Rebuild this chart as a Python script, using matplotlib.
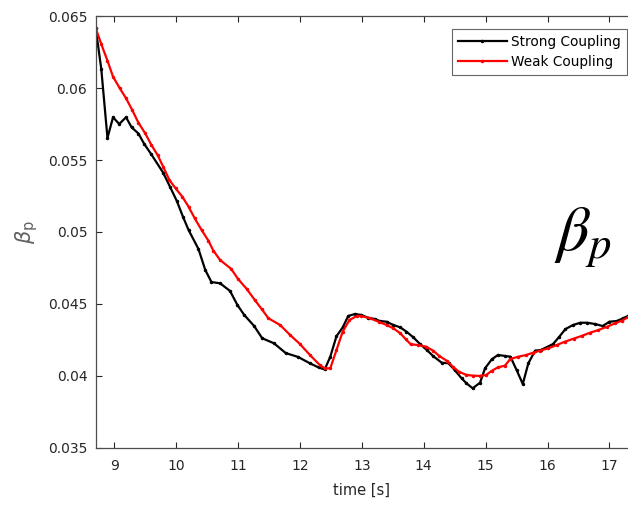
import matplotlib
matplotlib.use("Agg")
import matplotlib.pyplot as plt

# Strong coupling (black)
t_strong = [8.70, 8.79, 8.89, 8.98, 9.08, 9.19, 9.28, 9.39, 9.48, 9.60,
            9.79, 9.90, 10.01, 10.11, 10.20, 10.36, 10.47, 10.57, 10.71, 10.87,
            10.99, 11.10, 11.26, 11.39, 11.58, 11.77, 11.97, 12.16, 12.30, 12.40,
            12.49, 12.59, 12.69, 12.78, 12.89, 12.99, 13.10, 13.21, 13.29, 13.40,
            13.51, 13.62, 13.72, 13.83, 13.94, 14.05, 14.15, 14.29, 14.40, 14.50,
            14.61, 14.69, 14.79, 14.91, 14.99, 15.10, 15.20, 15.31, 15.40, 15.50,
            15.60, 15.69, 15.80, 15.89, 16.00, 16.09, 16.19, 16.29, 16.41, 16.53,
            16.64, 16.77, 16.89, 17.00, 17.12, 17.22, 17.30]
b_strong = [0.06417, 0.06134, 0.05654, 0.05798, 0.05751, 0.05798, 0.05728, 0.05685, 0.05615, 0.05539,
            0.05412, 0.05315, 0.05216, 0.05106, 0.05014, 0.04882, 0.04736, 0.04652, 0.04643, 0.04590,
            0.04492, 0.04423, 0.04346, 0.04261, 0.04226, 0.04158, 0.04131, 0.04087, 0.04058, 0.04044,
            0.04133, 0.04275, 0.04336, 0.04416, 0.04430, 0.04423, 0.04404, 0.04395, 0.04381, 0.04376,
            0.04353, 0.04337, 0.04307, 0.04268, 0.04221, 0.04179, 0.04138, 0.04091, 0.04087, 0.04040,
            0.03983, 0.03948, 0.03913, 0.03952, 0.04052, 0.04115, 0.04145, 0.04138, 0.04133, 0.04040,
            0.03943, 0.04087, 0.04175, 0.04179, 0.04202, 0.04221, 0.04272, 0.04325, 0.04353, 0.04369,
            0.04369, 0.04360, 0.04346, 0.04376, 0.04381, 0.04400, 0.04416]

# Weak coupling (red)
t_weak = [8.70, 8.79, 8.89, 8.98, 9.09, 9.19, 9.29, 9.39, 9.50, 9.60,
          9.70, 9.79, 9.89, 9.99, 10.10, 10.20, 10.30, 10.41, 10.52, 10.60,
          10.71, 10.89, 11.00, 11.14, 11.27, 11.38, 11.49, 11.68, 11.84, 12.00,
          12.16, 12.32, 12.40, 12.49, 12.59, 12.69, 12.80, 12.92, 12.99, 13.13,
          13.27, 13.40, 13.51, 13.62, 13.71, 13.79, 13.91, 14.04, 14.15, 14.25,
          14.37, 14.48, 14.57, 14.69, 14.80, 14.91, 15.01, 15.10, 15.20, 15.31,
          15.40, 15.53, 15.66, 15.77, 15.88, 16.01, 16.15, 16.28, 16.42, 16.55,
          16.69, 16.82, 16.96, 17.09, 17.20, 17.30]
b_weak = [0.06417, 0.06307, 0.06191, 0.06080, 0.05999, 0.05930, 0.05848, 0.05760, 0.05686, 0.05605,
          0.05535, 0.05454, 0.05362, 0.05304, 0.05245, 0.05176, 0.05095, 0.05014, 0.04940, 0.04871,
          0.04805, 0.04743, 0.04673, 0.04604, 0.04527, 0.04465, 0.04400, 0.04353, 0.04284, 0.04221,
          0.04145, 0.04075, 0.04052, 0.04052, 0.04179, 0.04307, 0.04388, 0.04416, 0.04416, 0.04400,
          0.04376, 0.04353, 0.04330, 0.04296, 0.04254, 0.04219, 0.04214, 0.04202, 0.04175, 0.04138,
          0.04105, 0.04059, 0.04028, 0.04006, 0.04001, 0.03999, 0.04006, 0.04035, 0.04059, 0.04070,
          0.04117, 0.04133, 0.04145, 0.04161, 0.04175, 0.04191, 0.04214, 0.04237, 0.04258, 0.04277,
          0.04300, 0.04318, 0.04341, 0.04365, 0.04383, 0.04407]

x_ticks = [9, 10, 11, 12, 13, 14, 15, 16, 17]
y_ticks = [0.035, 0.04, 0.045, 0.05, 0.055, 0.06, 0.065]
y_tick_labels = ["0.035", "0.04", "0.045", "0.05", "0.055", "0.06", "0.065"]

plt.rcParams["font.family"] = "DejaVu Sans"
fig = plt.figure(figsize=(6.28, 5.05), dpi=100)
ax = fig.add_axes([0.1524, 0.1135, 0.8476, 0.8542])

ax.plot(t_strong, b_strong, color="black", lw=1.6, marker=".", ms=3, label="Strong Coupling")
ax.plot(t_weak, b_weak, color="red", lw=1.6, marker=".", ms=3, label="Weak Coupling")

ax.set_xlim(8.7, 17.3)
ax.set_ylim(0.035, 0.065)
ax.set_xticks(x_ticks)
ax.set_yticks(y_ticks)
ax.set_yticklabels(y_tick_labels)
ax.tick_params(direction="in", length=4, width=0.8, color="#262626",
               labelcolor="#262626", labelsize=10, top=True, right=False)
ax.tick_params(axis="x", pad=8)
ax.tick_params(axis="y", pad=6)
for s in ["left", "bottom", "top"]:
    ax.spines[s].set_color("#4d4d4d")
    ax.spines[s].set_linewidth(0.9)
ax.spines["right"].set_visible(False)

ax.set_xlabel("time [s]", fontsize=10.5, color="#262626", labelpad=7)
ax.set_ylabel(r"$\beta_{\rm p}$", fontsize=15, color="#606060", labelpad=6)

leg = ax.legend(loc="upper right", bbox_to_anchor=(0.998, 0.971), borderaxespad=0,
                fontsize=9.8, frameon=True, fancybox=False,
                handlelength=3.6, handletextpad=0.3, borderpad=0.45,
                labelspacing=0.45)
leg.get_frame().set_edgecolor("#404040")
leg.get_frame().set_linewidth(0.8)

fig.text(583 / 628, 1 - 238 / 505, r"$\beta_p$", fontsize=46, math_fontfamily="stix",
         ha="center", va="center")

fig.savefig("out.png", dpi=100)
